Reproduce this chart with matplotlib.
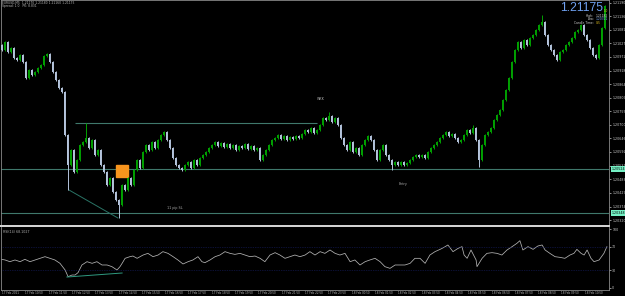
import numpy as np
import matplotlib.pyplot as plt
from matplotlib.patches import Rectangle
from matplotlib.lines import Line2D
from matplotlib.transforms import blended_transform_factory

# EURUSD M5 closes, one per bar
closes = [
    1.21000, 1.21032, 1.20992, 1.21008, 1.20968, 1.20960, 1.20980, 1.20952, 1.20888, 1.20920,
    1.20900, 1.20912, 1.20928, 1.20940, 1.20976, 1.20984, 1.20952, 1.20912, 1.20880, 1.20848,
    1.20832, 1.20660, 1.20540, 1.20600, 1.20512, 1.20560, 1.20620, 1.20632, 1.20648, 1.20608,
    1.20640, 1.20580, 1.20600, 1.20540, 1.20512, 1.20460, 1.20488, 1.20432, 1.20400, 1.20380,
    1.20460, 1.20440, 1.20488, 1.20460, 1.20520, 1.20560, 1.20528, 1.20592, 1.20620, 1.20600,
    1.20632, 1.20608, 1.20640, 1.20660, 1.20672, 1.20640, 1.20608, 1.20568, 1.20540, 1.20528,
    1.20520, 1.20540, 1.20552, 1.20528, 1.20560, 1.20540, 1.20568, 1.20580, 1.20592, 1.20608,
    1.20620, 1.20632, 1.20616, 1.20628, 1.20612, 1.20624, 1.20608, 1.20620, 1.20600, 1.20616,
    1.20608, 1.20624, 1.20604, 1.20616, 1.20600, 1.20608, 1.20560, 1.20580, 1.20600, 1.20620,
    1.20640, 1.20648, 1.20660, 1.20644, 1.20656, 1.20640, 1.20652, 1.20644, 1.20656, 1.20648,
    1.20664, 1.20680, 1.20672, 1.20688, 1.20668, 1.20680, 1.20700, 1.20728, 1.20720, 1.20736,
    1.20712, 1.20728, 1.20700, 1.20648, 1.20620, 1.20600, 1.20632, 1.20592, 1.20608, 1.20580,
    1.20620, 1.20640, 1.20656, 1.20640, 1.20600, 1.20560, 1.20600, 1.20620, 1.20580, 1.20560,
    1.20540, 1.20552, 1.20540, 1.20552, 1.20540, 1.20548, 1.20560, 1.20572, 1.20580, 1.20572,
    1.20580, 1.20568, 1.20592, 1.20608, 1.20620, 1.20632, 1.20648, 1.20660, 1.20672, 1.20656,
    1.20664, 1.20648, 1.20632, 1.20640, 1.20660, 1.20680, 1.20668, 1.20688, 1.20640, 1.20560,
    1.20620, 1.20660, 1.20672, 1.20688, 1.20720, 1.20740, 1.20760, 1.20800, 1.20840, 1.20888,
    1.20952, 1.21000, 1.21032, 1.21008, 1.21040, 1.21020, 1.21048, 1.21060, 1.21080, 1.21100,
    1.21112, 1.21060, 1.21020, 1.21000, 1.20980, 1.20960, 1.20992, 1.21000, 1.21020, 1.21032,
    1.21048, 1.21072, 1.21080, 1.21100, 1.21060, 1.21040, 1.21008, 1.20980, 1.20968, 1.21020,
    1.21088, 1.21175,
]
first_open = 1.21020
spike_highs = {28: 1.20708, 109: 1.20752, 157: 1.20700, 180: 1.21140}
spike_lows = {22: 1.20440, 39: 1.20328, 130: 1.20520, 159: 1.20532}

# RSI(14) samples (bar position, value)
rsi_bar = [0, 1.2, 2.8, 4.5, 6.2, 7.8, 9.5, 11.2, 12.8, 14.5, 16.2, 17.8, 19.5, 21.2, 22.2,
           23.5, 24.5, 25.5, 26.8, 28.5, 30.2, 31.8, 33.5, 35.2, 36.8, 38.5, 39.5, 40.2, 41.2,
           42.8, 43.8, 45.2, 47.2, 48.8, 50.5, 52.2, 53.8, 55.5, 57.2, 58.8, 60.5, 62.2, 63.8,
           65.5, 66.8, 67.8, 69.5, 71.2, 72.8, 74.5, 76.2, 77.8, 79.5, 81.2, 82.8, 84.5, 86.2,
           87.8, 89.5, 91.2, 92.8, 94.5, 96.2, 97.8, 99.5, 101.2, 102.8, 104.5, 106.2, 107.8,
           109.5, 111.2, 112.8, 114.5, 116.2, 117.8, 119.5, 121.2, 122.8, 124.5, 126.2, 127.8,
           129.5, 131.2, 132.8, 134.5, 136.2, 137.8, 139.5, 141.2, 142.8, 144.5, 146.2, 147.5,
           148.8, 150.5, 152.2, 153.5, 154.2, 155.2, 156.5, 158.2, 158.5, 160.2, 161.8, 163.5,
           165.2, 166.8, 168.5, 170.2, 171.8, 172.8, 173.8, 175.5, 177.2, 178.8, 180.2, 181.2,
           182.8, 184.5, 186.2, 187.8, 189.5, 190.8, 191.8, 193.2, 194.2, 195.2, 196.5, 197.5,
           199.2, 200.8, 201.8]
rsi_vals = [48.6, 47.5, 44.6, 47.5, 44.6, 48.6, 44.6, 47.5, 50.3, 53.1, 50.3, 47.5, 41.8,
            30.5, 19.2, 22.0, 22.0, 26.0, 39.0, 44.6, 41.8, 44.6, 39.0, 39.0, 36.2, 30.5, 36.2,
            41.8, 50.3, 53.1, 54.2, 50.3, 55.9, 58.7, 53.1, 55.9, 61.6, 58.7, 53.1, 47.5, 40.7,
            44.6, 47.5, 53.1, 44.6, 42.9, 47.5, 53.1, 55.9, 61.6, 58.7, 57.0, 58.7, 55.9, 53.1,
            54.2, 50.3, 44.6, 55.9, 59.9, 55.9, 50.3, 53.1, 55.9, 53.1, 55.9, 61.6, 55.9, 61.6,
            58.7, 64.4, 58.7, 55.9, 58.7, 44.6, 47.5, 39.0, 44.6, 47.5, 50.3, 44.6, 36.2, 33.3,
            39.0, 39.0, 39.0, 41.8, 50.3, 50.3, 41.8, 55.9, 61.6, 65.5, 68.9, 72.9, 61.6, 67.2,
            70.1, 55.9, 50.3, 64.4, 47.5, 36.2, 50.3, 58.7, 59.9, 58.7, 55.9, 64.4, 70.1, 75.7,
            80.2, 64.4, 70.1, 65.5, 71.2, 72.9, 64.4, 58.7, 53.1, 51.9, 50.3, 55.9, 58.7, 65.5,
            58.7, 55.9, 64.4, 50.3, 44.6, 47.5, 58.7, 70.1]

price_ticks = [1.21190, 1.21136, 1.21081, 1.21027, 1.20972, 1.20918, 1.20864, 1.20809,
               1.20755, 1.20700, 1.20646, 1.20592, 1.20537, 1.20483, 1.20429, 1.20374, 1.20320]
rsi_ticks = [100, 70, 30, 0]
time_labels = ['17 Feb 2021'] + ['17 Feb %02d:50' % h for h in range(10, 24)] + \
              ['18 Feb %02d:50' % h for h in range(0, 11)]

entry_level = 1.20524
sl_level = 1.20348
range_top = 1.20708

W, H = 625, 296
bull = '#00a000'
bear = '#b4c4dc'
line_col = '#3f786c'
txt = '#a8a8a8'

closes = np.array(closes)
n = len(closes)
bars = np.arange(n)
opens = np.r_[first_open, closes[:-1]]
highs = np.maximum(opens, closes) + 0.00003
lows = np.minimum(opens, closes) - 0.00003
for k, v in spike_highs.items():
    highs[k] = v
for k, v in spike_lows.items():
    lows[k] = v
cols = np.where(closes >= opens, bull, bear)

fig = plt.figure(figsize=(W / 100, H / 100), dpi=100, facecolor='black')
ax = fig.add_axes([1 / W, 71 / H, 608 / W, 225 / H], facecolor='black')
ax2 = fig.add_axes([1 / W, 6 / H, 608 / W, 63 / H], facecolor='black', sharex=ax)

# candles
ax.vlines(bars, lows, highs, colors=cols, lw=0.7, zorder=3)
body = np.maximum(np.abs(closes - opens), 0.00002)
ax.bar(bars, body, bottom=np.minimum(opens, closes), width=0.6, color=cols, lw=0, zorder=3)

ax.set_xlim(-0.167, 202.5)
ax.set_ylim(1.2030, 1.2120)

# levels and drawings
ax.axhline(entry_level, color=line_col, lw=0.8, zorder=2)
ax.axhline(sl_level, color=line_col, lw=0.8, zorder=2)
ax.hlines(range_top, 24.5, 105, color=line_col, lw=0.8, zorder=2)
ax.plot([22.5, 38.8], [1.20440, 1.20328], color='#2a7466', lw=0.7, zorder=2)
ax.add_patch(Rectangle((38.2, 1.20492), 4.0, 0.00048, color='#f7941d', zorder=2))

ax.text(55.2, 1.20368, '11 pip SL', color=txt, fontsize=2.4, va='center')
ax.text(132.5, 1.20464, 'Entry', color=txt, fontsize=2.4, va='center')
ax.text(105.2, 1.20804, 'WKK', color=txt, fontsize=2.4, va='center')

# price axis on the right
for a in (ax, ax2):
    a.yaxis.tick_right()
    a.tick_params(axis='y', colors='#c8c8c8', labelsize=2.3, length=1.5, width=0.5, pad=0.8)
    a.tick_params(axis='x', bottom=False, labelbottom=False)
    for s in ('left', 'right', 'top', 'bottom'):
        a.spines[s].set_color('#8a8a8a')
        a.spines[s].set_linewidth(0.6)
ax.spines['bottom'].set_visible(False)
ax2.spines['top'].set_visible(False)
ax.set_yticks(price_ticks)
ax.set_yticklabels(['%.5f' % p for p in price_ticks])

for lvl in (entry_level, sl_level):
    ax.annotate('%.5f' % lvl, xy=(1.0, lvl), xycoords=('axes fraction', 'data'),
                xytext=(2, 0), textcoords='offset points', fontsize=2.3, color='black',
                va='center', ha='left',
                bbox=dict(boxstyle='square,pad=0.25', fc='#74f0c4', ec='none'), zorder=5)

# RSI panel
ax2.plot(rsi_bar, rsi_vals, color='#b4b4b4', lw=0.55)
ax2.axhline(70, color='#18206a', lw=0.5, ls=(0, (1, 1.5)))
ax2.axhline(30, color='#18206a', lw=0.5, ls=(0, (1, 1.5)))
ax2.plot([21.8, 40.2], [18.6, 25.4], color='#2f9a80', lw=0.7)
ax2.set_ylim(-3.4, 103.4)
ax2.set_yticks(rsi_ticks)
ax2.set_yticklabels([str(v) for v in rsi_ticks])
ax2.text(0.003, 0.96, 'RSI(14) 68.1027', transform=ax2.transAxes, color='#b0b0b0',
         fontsize=2.3, va='top')

# separator between the panels
fig.add_artist(Line2D([0, 609 / W], [70 / H, 70 / H], color='#d8d8d8', lw=1.4))

# time axis
tr = blended_transform_factory(ax2.transData, fig.transFigure)
for k, lab in enumerate(time_labels):
    xb = 0.17 + 7.77 * k
    ax2.text(xb, 3 / H, lab, transform=tr, color='#b8b8b8', fontsize=2.0,
             ha='left', va='center')

# header texts
fig.text(2 / W, 1 - 3 / H, 'EURUSD,M5  1.21170 1.21180 1.21160 1.21175', color='#b8b8b8',
         fontsize=2.2, va='center')
fig.text(2 / W, 1 - 6.5 / H, 'Spread: 1.0   PK: 8.831', color='#b8b8b8',
         fontsize=2.2, va='center')
fig.text(603 / W, 1 - 8 / H, '1.21175', color='#6fa0f0', fontsize=8.8,
         family='Liberation Sans', ha='right', va='center')
fig.text(604 / W, 1 - 11 / H, '1.0', color='#e0c020', fontsize=2.0, ha='left', va='center')
rows = [('High:', '1.21182', '#d0d0d0', 16), ('Low:', '1.20321', '#7aa8f0', 19.5),
        ('Candle Time:', '0:5', '#e0c020', 23)]
for lab, val, c, yy in rows:
    fig.text(594 / W, 1 - yy / H, lab, color='#d0d0d0', fontsize=2.2, ha='right', va='center')
    fig.text(596 / W, 1 - yy / H, val, color=c, fontsize=2.2, ha='left', va='center')

fig.savefig('out.png', dpi=100, facecolor='black')
